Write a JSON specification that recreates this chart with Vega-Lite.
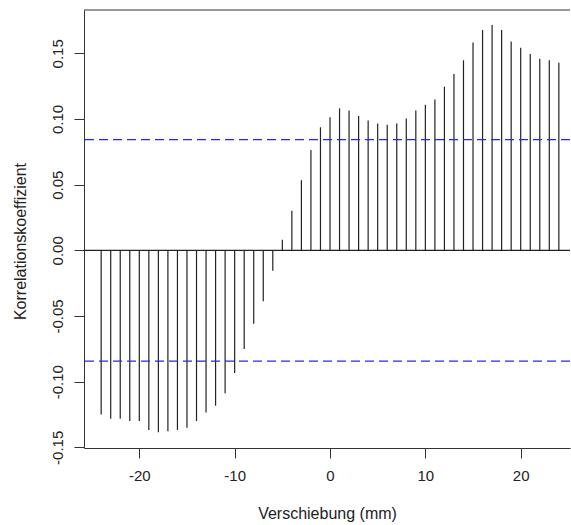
{
  "$schema": "https://vega.github.io/schema/vega-lite/v6.json",
  "width": 486,
  "height": 438,
  "autosize": {"type": "none"},
  "padding": {"left": 84, "top": 10, "right": 1, "bottom": 77},
  "background": "white",
  "config": {
    "view": {"stroke": null},
    "locale": {"number": {"decimal": ".", "thousands": ",", "grouping": [3], "currency": ["$", ""], "minus": "-"}},
    "axis": {
      "domainColor": "#333", "tickColor": "#333", "labelColor": "#222", "titleColor": "#222",
      "labelFont": "Liberation Sans", "titleFont": "Liberation Sans",
      "labelFontSize": 15, "titleFontSize": 16, "titleFontWeight": "normal",
      "grid": false, "tickSize": 10, "domainWidth": 1, "tickWidth": 1
    }
  },
  "datasets": {
    "ccf": [
      {"lag": -24, "r": -0.1249}, {"lag": -23, "r": -0.1282}, {"lag": -22, "r": -0.1282},
      {"lag": -21, "r": -0.1300}, {"lag": -20, "r": -0.1300}, {"lag": -19, "r": -0.1368},
      {"lag": -18, "r": -0.1386}, {"lag": -17, "r": -0.1378}, {"lag": -16, "r": -0.1368},
      {"lag": -15, "r": -0.1350}, {"lag": -14, "r": -0.1300}, {"lag": -13, "r": -0.1234},
      {"lag": -12, "r": -0.1183}, {"lag": -11, "r": -0.1089}, {"lag": -10, "r": -0.0934},
      {"lag": -9, "r": -0.0752}, {"lag": -8, "r": -0.0558}, {"lag": -7, "r": -0.0388},
      {"lag": -6, "r": -0.0155}, {"lag": -5, "r": 0.0081}, {"lag": -4, "r": 0.0302},
      {"lag": -3, "r": 0.0533}, {"lag": -2, "r": 0.0764}, {"lag": -1, "r": 0.0937},
      {"lag": 0, "r": 0.1013}, {"lag": 1, "r": 0.1081}, {"lag": 2, "r": 0.1064},
      {"lag": 3, "r": 0.1023}, {"lag": 4, "r": 0.0989}, {"lag": 5, "r": 0.0965},
      {"lag": 6, "r": 0.0957}, {"lag": 7, "r": 0.0965}, {"lag": 8, "r": 0.1003},
      {"lag": 9, "r": 0.1064}, {"lag": 10, "r": 0.1109}, {"lag": 11, "r": 0.1148},
      {"lag": 12, "r": 0.1246}, {"lag": 13, "r": 0.1342}, {"lag": 14, "r": 0.1447},
      {"lag": 15, "r": 0.1582}, {"lag": 16, "r": 0.1677}, {"lag": 17, "r": 0.1716},
      {"lag": 18, "r": 0.1677}, {"lag": 19, "r": 0.1591}, {"lag": 20, "r": 0.1543},
      {"lag": 21, "r": 0.1495}, {"lag": 22, "r": 0.1458}, {"lag": 23, "r": 0.1447},
      {"lag": 24, "r": 0.1429}
    ],
    "ci": [{"v": 0.0843}, {"v": -0.0843}]
  },
  "layer": [
    {
      "data": {"name": "ccf"},
      "mark": {"type": "rule", "color": "#222", "strokeWidth": 1.2},
      "encoding": {
        "x": {
          "field": "lag", "type": "quantitative",
          "scale": {"domain": [-25.8, 25.17], "nice": false, "zero": false},
          "axis": {
            "values": [-20, -10, 0, 10, 20], "title": "Verschiebung (mm)",
            "labelPadding": 10, "titleY": 65, "titleBaseline": "middle"
          }
        },
        "y": {
          "field": "r", "type": "quantitative",
          "scale": {"domain": [-0.1505, 0.183], "nice": false},
          "axis": {
            "values": [-0.15, -0.1, -0.05, 0, 0.05, 0.1, 0.15], "format": ".2f",
            "labelAngle": -90, "labelAlign": "center", "labelBaseline": "alphabetic", "labelPadding": 12,
            "title": "Korrelationskoeffizient", "titleX": -64, "titleY": 231,
            "titleAngle": -90, "titleBaseline": "middle", "titleAlign": "center"
          }
        },
        "y2": {"datum": 0}
      }
    },
    {
      "data": {"values": [{}]},
      "mark": {"type": "rule", "color": "#222", "strokeWidth": 1.2},
      "encoding": {"y": {"datum": 0}}
    },
    {
      "data": {"name": "ci"},
      "mark": {"type": "rule", "color": "#2424ff", "strokeWidth": 1.2, "strokeDash": [9, 5]},
      "encoding": {"y": {"field": "v", "type": "quantitative"}}
    },
    {
      "data": {"values": [{}]},
      "mark": {"type": "rule", "color": "#333", "strokeWidth": 1},
      "encoding": {"y": {"datum": 0.183}}
    }
  ]
}
